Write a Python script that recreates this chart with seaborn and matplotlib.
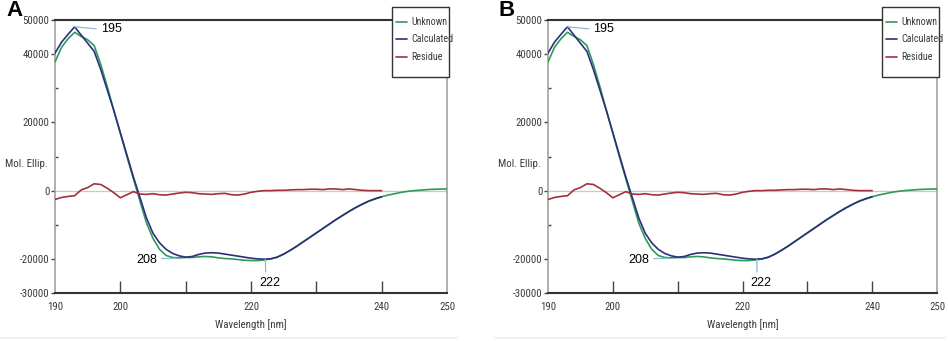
import numpy as np
import pandas as pd
import matplotlib
matplotlib.use("Agg")
import matplotlib.pyplot as plt
from matplotlib.lines import Line2D
from matplotlib.patches import Rectangle
from matplotlib import font_manager
import seaborn as sns

sns.set_theme(style="white")
plt.rcParams['font.family'] = ['Liberation Sans', 'DejaVu Sans']

# ---------------- data ----------------
wavelength_calc = list(range(190, 241))
wavelength_unknown = list(range(190, 251))

calculated = [40300, 43500, 45800, 48000, 45600, 43200, 40800, 35500, 29500, 23500,
              17000, 10500, 4000, -2000, -8000, -12500, -15300, -17200, -18400, -19100,
              -19500, -19300, -18700, -18300, -18200, -18300, -18600, -18900, -19200, -19500,
              -19800, -20000, -20100, -20000, -19500, -18600, -17500, -16300, -15000, -13700,
              -12400, -11100, -9800, -8500, -7300, -6100, -5000, -4000, -3100, -2400,
              -1800]

unknown = [37700, 42000, 44500, 46400, 45200, 44200, 42500, 37000, 30500, 23500,
           16800, 10000, 3500, -3000, -9500, -14000, -17200, -19000, -19600, -19700,
           -19600, -19600, -19400, -19300, -19400, -19700, -19900, -20000, -20200, -20400,
           -20500, -20500, -20300, -20000, -19500, -18600, -17500, -16300, -15000, -13700,
           -12400, -11100, -9800, -8500, -7300, -6100, -5000, -4000, -3100, -2400,
           -1800, -1300, -900, -500, -200, 0, 150, 300, 400, 450,
           500]

residue = [-2600, -2000, -1700, -1500, 200, 900, 2000, 1800, 700, -600,
           -2100, -1200, -300, -1000, -1100, -900, -1200, -1300, -1000, -700,
           -500, -600, -900, -1000, -1100, -900, -800, -1200, -1300, -1000,
           -500, -200, 0, 0, 100, 100, 200, 300, 300, 400,
           400, 300, 500, 500, 300, 500, 300, 100, 0, 0,
           0]

series_names = ["Unknown", "Calculated", "Residue"]
series_colors = ["#2f9a55", "#2c2f7c", "#a3303f"]

x_ticks_major = [200, 210, 220, 230, 240]
x_tick_labels = {190: "190", 200: "200", 220: "220", 240: "240", 250: "250"}
y_label_ticks = [-30000, -20000, 0, 20000, 40000, 50000]
y_minor_ticks = [-10000, 10000, 30000]

peak_labels = [("195", 193, 48000), ("208", 208.6, -19600), ("222", 222.2, -20150)]
panel_letters = ["A", "B"]

df = pd.concat([
    pd.DataFrame({"wl": wavelength_unknown, "val": unknown, "series": "Unknown"}),
    pd.DataFrame({"wl": wavelength_calc, "val": calculated, "series": "Calculated"}),
    pd.DataFrame({"wl": wavelength_calc, "val": residue, "series": "Residue"}),
])

# ---------------- fonts ----------------
avail = {f.name for f in font_manager.fontManager.ttflist}
if "Liberation Sans Narrow" in avail:
    NARROW = dict(family="Liberation Sans Narrow")
elif "Roboto Condensed" in avail:
    NARROW = dict(family="Roboto Condensed")
elif "Open Sans Condensed" in avail:
    NARROW = dict(family="Open Sans Condensed")
else:
    NARROW = dict(family="DejaVu Sans", stretch="condensed")


def fp(size=7.8):
    return font_manager.FontProperties(size=size, **NARROW)


# ---------------- figure ----------------
W, H = 948, 341
fig = plt.figure(figsize=(W / 100, H / 100), dpi=100)
fig.patch.set_facecolor("white")

tick_col = "#3a3a3a"
ann_col = "#8db9e3"

panels = [(55, 447), (548, 937)]
top_px, bot_px = 20, 293

for (lpx, rpx), letter in zip(panels, panel_letters):
    ax = fig.add_axes([lpx / W, (H - bot_px) / H, (rpx - lpx) / W, (bot_px - top_px) / H])
    ax.set_facecolor("white")
    ax.axhline(0, color="#c9c9c9", lw=0.9, zorder=1)
    sns.lineplot(data=df, x="wl", y="val", hue="series", hue_order=series_names,
                 palette=series_colors, lw=1.2, ax=ax, zorder=3, sort=False)
    ax.set_xlim(190, 250)
    ax.set_ylim(-30000, 50000)

    # ticks
    ax.set_xticks(x_ticks_major)
    ax.set_xticklabels([])
    ax.tick_params(axis="x", which="major", direction="in", length=9, width=1, color="#444444",
                   bottom=True)
    for xv, lab in x_tick_labels.items():
        ax.text(xv, -0.052, lab, transform=ax.get_xaxis_transform(), ha="center", va="center",
                color=tick_col, fontproperties=fp())

    ax.set_yticks(y_label_ticks)
    ax.set_yticklabels([f"{v}" for v in y_label_ticks], color=tick_col)
    for t in ax.get_yticklabels():
        t.set_fontproperties(fp())
    ax.set_yticks(y_minor_ticks, minor=True)
    ax.tick_params(axis="y", which="major", direction="out", length=3, width=1, color="#444444",
                   left=True, pad=1)
    ax.tick_params(axis="y", which="minor", direction="in", length=2.5, width=1, color="#444444",
                   left=True)

    for s in ["top", "bottom"]:
        ax.spines[s].set_color("#333333")
        ax.spines[s].set_linewidth(1.5)
    for s in ["left", "right"]:
        ax.spines[s].set_color("#9a9a9a")
        ax.spines[s].set_linewidth(1.1)

    ax.set_xlabel("")
    ax.set_ylabel("")
    ax.text(0.5, -0.117, "Wavelength [nm]", transform=ax.transAxes, ha="center", va="center",
            color=tick_col, fontproperties=fp())
    fig.text((lpx - 50) / W, (H - 164) / H, "Mol. Ellip.", ha="left", va="center",
             color=tick_col, fontproperties=fp())

    # annotations
    for lab, xv, yv in peak_labels:
        if lab == "195":
            ax.annotate(lab, xy=(xv, yv), xytext=(197.0, 47300), ha="left", va="center",
                        fontsize=9, color="black",
                        arrowprops=dict(arrowstyle="-", color=ann_col, lw=0.9,
                                        shrinkA=1, shrinkB=0, relpos=(0, 0.5)), zorder=5)
        elif lab == "208":
            ax.annotate(lab, xy=(xv, yv - 250), xytext=(205.6, -20250), ha="right", va="center",
                        fontsize=9, color="black",
                        arrowprops=dict(arrowstyle="-", color=ann_col, lw=0.9,
                                        shrinkA=1, shrinkB=0, relpos=(1, 0.6)), zorder=5)
        else:
            ax.annotate(lab, xy=(xv, yv), xytext=(222.9, -27000), ha="center", va="center",
                        fontsize=9, color="black",
                        arrowprops=dict(arrowstyle="-", color=ann_col, lw=0.9,
                                        shrinkA=1, shrinkB=0, relpos=(0.3, 1.0)), zorder=5)

    ax.get_legend().remove()

    # legend box (drawn over the axes' top spine) and legend entries
    box_l, box_r, box_t, box_b = rpx - 55, rpx + 2, 7, 77
    fig.add_artist(Rectangle((box_l / W, (H - box_b) / H), (box_r - box_l) / W,
                             (box_b - box_t) / H, transform=fig.transFigure,
                             facecolor="white", edgecolor="#333333", lw=1.0, zorder=5))
    handles = [Line2D([0], [0], color=c, lw=1.2) for c in series_colors]
    leg = fig.legend(handles, series_names, loc="upper left",
                     bbox_to_anchor=((box_l + 4) / W, (H - 17) / H), bbox_transform=fig.transFigure,
                     borderaxespad=0, borderpad=0, frameon=False,
                     handlelength=1.1, handletextpad=0.45, labelspacing=0.75,
                     prop=fp(7.2))
    for t in leg.get_texts():
        t.set_color(tick_col)
    leg.set_zorder(6)

    fig.text((lpx - 49) / W, (H - 10) / H, letter, fontsize=16, fontweight="bold",
             ha="left", va="center", color="black")

# faint separator lines at bottom
fig.add_artist(Line2D([0 / W, 457 / W], [(H - 338) / H] * 2, color="#f1eee3", lw=1.2))
fig.add_artist(Line2D([495 / W, 945 / W], [(H - 338) / H] * 2, color="#f1eee3", lw=1.2))

fig.savefig("out.png", dpi=100, facecolor="white")
